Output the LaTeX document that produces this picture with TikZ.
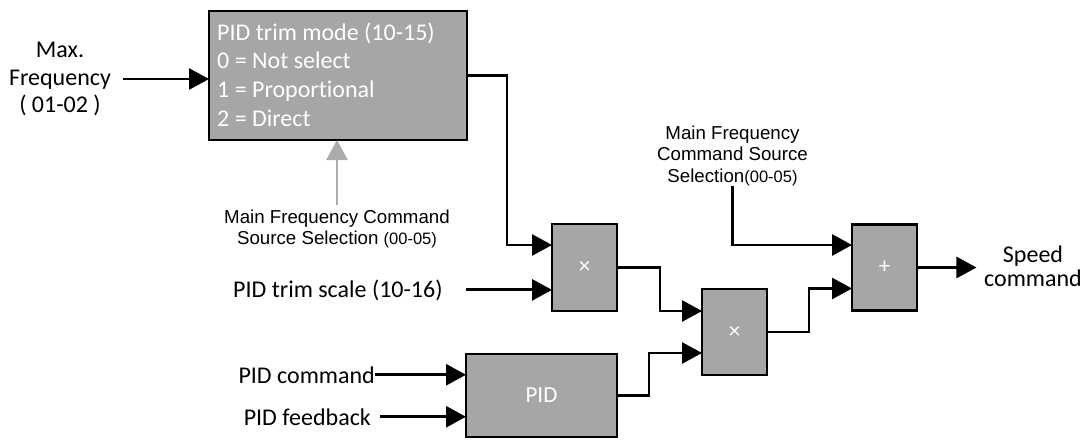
\documentclass[tikz,border=0pt]{standalone}
\usepackage{fontspec}
\setmainfont{Carlito}[Ligatures=NoCommon]
\newfontfamily\arialfam{Liberation Sans}
\usetikzlibrary{arrows.meta}
\definecolor{boxgray}{RGB}{166,166,166}
\definecolor{arrgray}{RGB}{172,172,172}
\newcommand\parsm[1]{{\fontsize{16.5}{20}\selectfont #1}}
\begin{document}
\begin{tikzpicture}[x=1pt,y=-1pt,
  blk/.style={draw=black,line width=2.8pt,fill=boxgray,inner sep=0pt,outer sep=0pt,text=white,font=\fontsize{23}{26}\selectfont},
  conn/.style={draw=black,line width=2.8pt,-{Triangle[length=20pt,width=21pt]}},
  gconn/.style={draw=arrgray,line width=2.6pt,-{Triangle[length=20pt,width=21pt]}},
  big/.style={inner sep=0pt,font=\fontsize{24}{27.5}\selectfont},
  boxtxt/.style={inner sep=0pt,text=white,font=\fontsize{24}{28}\selectfont},
  small/.style={inner sep=0pt,align=center,font=\arialfam\fontsize{18.7}{21.5}\selectfont}
]
\useasboundingbox (0,0) rectangle (1086,439);

% blocks
\node[blk,anchor=north west,minimum width=258pt,minimum height=129pt] (trim) at (209,11) {};
\node[boxtxt,anchor=base west] (t1) at (217,40) {PID trim mode (10-15)};
\node[boxtxt,anchor=base west] (t2) at (217,68) {0 = Not select};
\node[boxtxt,anchor=base west] (t3) at (217,97) {1 = Proportional};
\node[boxtxt,anchor=base west] (t4) at (217,126) {2 = Direct};

\node[blk,minimum width=65pt,minimum height=87pt] (mul1) at (584.5,267.5) {×};
\node[blk,minimum width=65pt,minimum height=86pt] (mul2) at (734.5,332) {×};
\node[blk,minimum width=65pt,minimum height=86pt] (plus) at (884.5,267.5) {+};
\node[blk,minimum width=151pt,minimum height=83pt] (pid) at (541.5,395.5) {PID};

% labels
\node[big,align=center,inner xsep=12pt] (maxf) at (60,79) {Max.\\Frequency\\( 01-02 )};
\node[small] (msel1) at (337,229) {Main Frequency Command\\Source Selection \parsm{(00-05)}};
\node[small] (msel2) at (732.5,155.5) {Main Frequency\\Command Source\\Selection\parsm{(00-05)}};
\node[big,anchor=base west] (scale) at (233,297) {PID trim scale (10-16)};
\node[big,anchor=base east] (pcmd) at (375,383) {PID command};
\node[big,anchor=base east] (pfb) at (371,425) {PID feedback};
\node[big,align=center,inner xsep=7.5pt,font=\fontsize{24}{24}\selectfont] (speed) at (1033,266) {Speed\\command};

% connectors
\draw[conn] (maxf.east) -- (maxf.east -| trim.west);
\draw[gconn] ([yshift=5pt]msel1.north) -- (msel1.north |- trim.south);
\draw[conn] (trim.east) -- ++(40,0) |- ([yshift=22.5pt]mul1.west);
\draw[conn] ([xshift=23pt]scale.east) -- (scale.east -| mul1.west);
\draw[conn] (mul1.east) -- ++(43,0) |- ([yshift=21pt]mul2.west);
\draw[conn] (pid.east) -- ++(32,0) |- ([yshift=-21pt]mul2.west);
\draw[conn] (mul2.east) -- ++(42,0) |- ([yshift=-21pt]plus.west);
\draw[conn] (msel2.south) |- ([yshift=22.5pt]plus.west);
\draw[conn] (plus.east) -- (plus.east -| speed.west);
\draw[conn] (pcmd.east) -- (pcmd.east -| pid.west);
\draw[conn] ([xshift=9pt]pfb.east) -- (pfb.east -| pid.west);
\end{tikzpicture}
\end{document}
